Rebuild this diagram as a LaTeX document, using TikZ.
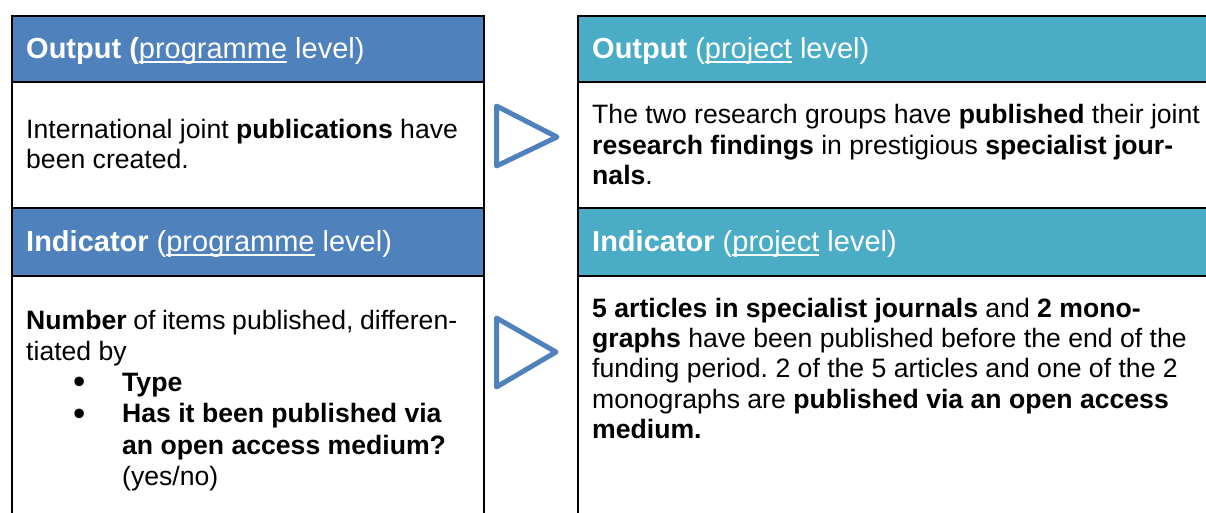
\documentclass[tikz,border=0pt]{standalone}
\usepackage{fontspec}
\setmainfont{Liberation Sans}
\frenchspacing
\definecolor{progblue}{HTML}{4F81BD}
\definecolor{projteal}{HTML}{4BACC6}
\newcommand\myul[1]{\setbox0=\hbox{#1}\rlap{\rule[-4pt]{\wd0}{1.8pt}}\box0\relax}
\newcommand\mylines[2]{\vtop{\baselineskip=#1\lineskiplimit=-100pt\lineskip=0pt #2}}
\newcommand\bul[1]{\hbox{\hbox to 96pt{\hskip 47pt\smash{\raisebox{-2.3pt}{\fontsize{35}{35}\selectfont\textbullet}}\hfil}#1}}
\tikzset{
  cell/.style={draw=black, line width=2pt, rectangle, inner sep=0pt, anchor=north west},
  hdrtext/.style={anchor=base west, text=white, inner sep=0pt, font=\fontsize{29}{34}\selectfont},
  bodytext/.style={anchor=base west, text=black, inner sep=0pt, font=\fontsize{26.6}{30.5}\selectfont},
  arrowtri/.style={draw=progblue, line width=5pt, line join=round}
}
\begin{document}
\begin{tikzpicture}[x=1pt,y=-1pt]
\useasboundingbox (0,0) rectangle (1206,512);
\clip (0,0) rectangle (1206,512);
% left column cells
\node[cell, fill=progblue, minimum width=472pt, minimum height=66pt] (lout) at (11,15) {};
\node[cell, fill=white, minimum width=472pt, minimum height=126pt] (loutbody) at (11,81) {};
\node[cell, fill=progblue, minimum width=472pt, minimum height=68pt] (lind) at (11,207) {};
\node[cell, fill=white, minimum width=472pt, minimum height=260pt] (lindbody) at (11,275) {};
% right column cells
\node[cell, fill=projteal, minimum width=650pt, minimum height=66pt] (rout) at (577,15) {};
\node[cell, fill=white, minimum width=650pt, minimum height=126pt] (routbody) at (577,81) {};
\node[cell, fill=projteal, minimum width=650pt, minimum height=68pt] (rind) at (577,207) {};
\node[cell, fill=white, minimum width=650pt, minimum height=260pt] (rindbody) at (577,275) {};
% header texts
\node[hdrtext] (louttxt) at (26,58.5) {\textbf{Output (}\myul{programme} level)};
\node[hdrtext] (lindtxt) at (26,251.5) {\textbf{Indicator} (\myul{programme} level)};
\node[hdrtext] (routtxt) at (592,58.5) {\textbf{Output} (\myul{project} level)};
\node[hdrtext] (rindtxt) at (592,251.5) {\textbf{Indicator} (\myul{project} level)};
% body texts
\node[bodytext] (loutbtxt) at (26,138) {\mylines{30pt}{%
  \hbox{International joint \textbf{publications} have}
  \hbox{been created.}}};
\node[bodytext] (routbtxt) at (592,123.5) {\mylines{30.5pt}{%
  \hbox{The two research groups have \textbf{published} their joint}
  \hbox{\textbf{research findings} in prestigious \textbf{specialist jour-}}
  \hbox{\textbf{nals}.}}};
\node[bodytext] (lindbtxt) at (26,329) {\mylines{31.3pt}{%
  \hbox to 431pt{\textbf{Number} of items published, differen-}
  \hbox{tiated by}
  \bul{\textbf{Type}}
  \bul{\textbf{Has it been published via}}
  \hbox{\hskip 96pt\textbf{an open access medium?}}
  \hbox{\hskip 96pt(yes/no)}}};
\node[bodytext] (rindbtxt) at (592,317) {\mylines{30.4pt}{%
  \hbox{\textbf{5 articles in specialist journals} and \textbf{2 mono-}}
  \hbox{\textbf{graphs} have been published before the end of the}
  \hbox{funding period. 2 of the 5 articles and one of the 2}
  \hbox{monographs are \textbf{published via an open access}}
  \hbox{\textbf{medium.}}}};
% arrow triangles
\coordinate (t1a) at (496.5,106);
\coordinate (t1b) at (496.5,166);
\coordinate (t1c) at (557,137);
\draw[arrowtri] (t1a) -- (t1b) -- (t1c) -- cycle;
\coordinate (t2a) at (496.5,318);
\coordinate (t2b) at (496.5,387);
\coordinate (t2c) at (556,352);
\draw[arrowtri] (t2a) -- (t2b) -- (t2c) -- cycle;
\end{tikzpicture}
\end{document}
